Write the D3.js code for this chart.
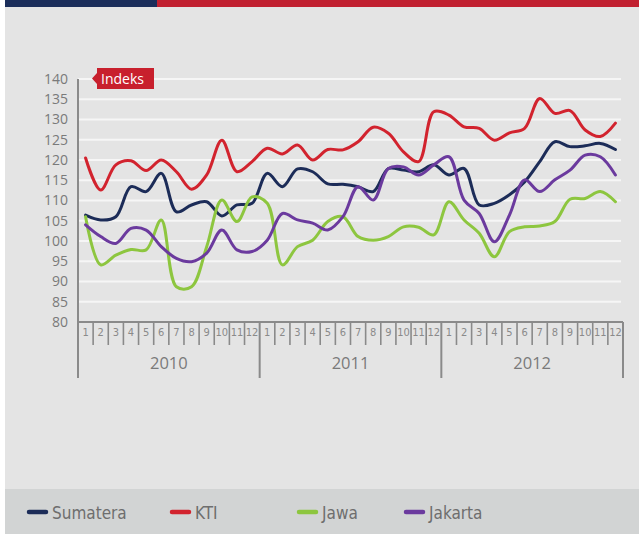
<!DOCTYPE html>
<html>
<head>
<meta charset="utf-8">
<script src="https://cdn.jsdelivr.net/npm/d3@7/dist/d3.min.js"></script>
<style>
  html, body { margin: 0; padding: 0; background: #ffffff; }
  svg { display: block; }
  text { font-family: "Open Sans", "DejaVu Sans", sans-serif; }
</style>
</head>
<body>
<svg id="chart" width="639" height="534"></svg>
<script>
// Monthly index, Jan 2010 – Dec 2012
const years = ["2010", "2011", "2012"];
const months = ["1","2","3","4","5","6","7","8","9","10","11","12"];
const yTicks = [80, 85, 90, 95, 100, 105, 110, 115, 120, 125, 130, 135, 140];

const sumatera = [106.4, 105.2, 106.0, 113.4, 112.2, 116.7, 107.2, 108.9, 109.7, 106.2, 108.9, 109.3,
                  116.7, 113.4, 117.8, 117.1, 114.1, 114.0, 113.4, 112.2, 117.9, 117.5, 117.1, 118.8,
                  116.3, 117.9, 108.9, 109.3, 111.4, 114.6, 119.6, 124.5, 123.3, 123.5, 124.1, 122.6];
const kti      = [120.5, 112.6, 118.8, 119.8, 117.4, 120.0, 117.1, 112.8, 116.3, 124.9, 117.1, 119.6,
                  122.9, 121.5, 123.7, 120.0, 122.6, 122.5, 124.5, 128.1, 126.6, 122.0, 119.6, 131.9,
                  131.1, 128.2, 127.8, 124.9, 126.7, 127.8, 135.2, 131.5, 132.2, 127.4, 125.8, 129.1];
const jawa     = [106.0, 94.1, 96.5, 97.9, 97.8, 105.2, 88.7, 88.7, 98.6, 110.1, 104.8, 110.9,
                  109.3, 94.1, 98.6, 100.2, 104.8, 106.0, 101.1, 100.2, 101.1, 103.5, 103.4, 101.5,
                  109.7, 105.2, 101.9, 96.1, 102.3, 103.5, 103.7, 104.8, 110.3, 110.5, 112.2, 109.7];
const jakarta  = [104.0, 101.1, 99.4, 103.1, 102.7, 98.6, 95.7, 94.9, 97.0, 102.7, 97.8, 97.4,
                  100.2, 106.8, 105.2, 104.4, 102.7, 106.0, 113.4, 110.1, 117.9, 118.3, 116.3, 118.8,
                  120.8, 110.1, 106.8, 99.8, 106.4, 115.1, 112.2, 115.1, 117.5, 121.2, 120.8, 116.3];

const seriesNames = ["Sumatera", "KTI", "Jawa", "Jakarta"];
const seriesValues = [sumatera, kti, jawa, jakarta];
const colors = ["#1c2c58", "#d2232e", "#8dc63f", "#6b3a9e"];

const narrow = "'DejaVu Sans Condensed', sans-serif";

const svg = d3.select("#chart");

// page background, header stripes and legend band
svg.append("rect").attr("x", 5).attr("y", 0).attr("width", 634).attr("height", 534).attr("fill", "#e4e4e4");
svg.append("rect").attr("x", 5).attr("y", 0).attr("width", 152).attr("height", 7).attr("fill", "#1b2d5a");
svg.append("rect").attr("x", 157).attr("y", 0).attr("width", 482).attr("height", 7).attr("fill", "#c12030");
svg.append("rect").attr("x", 5).attr("y", 489).attr("width", 634).attr("height", 45).attr("fill", "#d2d4d4");

const plotLeft = 78, plotRight = 623, plotTop = 79, plotBottom = 322;

const keys = d3.range(36).map(i => years[Math.floor(i / 12)] + "-" + months[i % 12]);
const x = d3.scaleBand().domain(keys).range([plotLeft, plotRight]).padding(0);
const y = d3.scaleLinear().domain([80, 140]).range([plotBottom, plotTop]);

// horizontal grid
svg.append("g").selectAll("line").data(yTicks.filter(t => t > 80)).join("line")
  .attr("x1", plotLeft).attr("x2", 621)
  .attr("y1", d => y(d)).attr("y2", d => y(d))
  .attr("stroke", "#f6f6f6").attr("stroke-width", 2);

// y axis
const yAxis = svg.append("g").attr("transform", `translate(${plotLeft},0)`)
  .call(d3.axisLeft(y).tickValues(yTicks).tickSize(0).tickPadding(10));
yAxis.select(".domain").remove();
yAxis.selectAll("text").attr("fill", "#7a7a7a").style("font-size", "14px")
  .style("font-family", "'Open Sans', sans-serif");

const axisColor = "#8a8a8a";
svg.append("line").attr("x1", plotLeft).attr("x2", plotLeft).attr("y1", plotTop).attr("y2", 378)
  .attr("stroke", axisColor).attr("stroke-width", 2);
svg.append("line").attr("x1", plotLeft).attr("x2", plotRight).attr("y1", plotBottom).attr("y2", plotBottom)
  .attr("stroke", axisColor).attr("stroke-width", 2);

// month ticks and labels
const xAxis = svg.append("g").attr("transform", `translate(0,${plotBottom})`)
  .call(d3.axisBottom(x).tickSize(0).tickPadding(8).tickFormat(d => d.split("-")[1]));
xAxis.select(".domain").remove();
xAxis.selectAll("text").attr("fill", "#8a8a8a").style("font-size", "11px")
  .style("font-family", narrow)
  .attr("dy", "0.5em");

const bw = x.bandwidth();
svg.append("g").selectAll("line").data(keys.filter((k, i) => i % 12 !== 0)).join("line")
  .attr("x1", d => x(d)).attr("x2", d => x(d))
  .attr("y1", plotBottom).attr("y2", 345)
  .attr("stroke", axisColor).attr("stroke-width", 1.6);

// year separators and labels
svg.append("g").selectAll("line").data([12, 24, 36]).join("line")
  .attr("x1", i => i < 36 ? x(keys[i]) : plotRight).attr("x2", i => i < 36 ? x(keys[i]) : plotRight)
  .attr("y1", plotBottom).attr("y2", 378)
  .attr("stroke", axisColor).attr("stroke-width", 2);

svg.append("g").selectAll("text").data(years).join("text")
  .attr("x", (d, i) => x(keys[i * 12]) + bw * 6)
  .attr("y", 369)
  .attr("text-anchor", "middle")
  .attr("fill", "#7a7a7a").style("font-size", "16.5px")
  .text(d => d);

// unit tag
const tag = svg.append("g");
tag.append("path")
  .attr("d", "M92,78.5 L97,73 L97,68 L154,68 L154,89 L97,89 L97,84 Z")
  .attr("fill", "#c8202d");
tag.append("text").attr("x", 101).attr("y", 84).attr("fill", "#ffffff")
  .style("font-size", "14px").text("Indeks");

// series lines
const line = d3.line()
  .x((d, i) => x(keys[i]) + bw / 2)
  .y(d => y(d))
  .curve(d3.curveCatmullRom.alpha(0.5));

svg.append("g").selectAll("path").data(d3.range(seriesValues.length)).join("path")
  .attr("d", i => line(seriesValues[i]))
  .attr("fill", "none")
  .attr("stroke", i => colors[i])
  .attr("stroke-width", 3)
  .attr("stroke-linejoin", "round")
  .attr("stroke-linecap", "round");

// legend
const legendX = [27, 170, 297, 404];
const lg = svg.append("g").selectAll("g").data(seriesNames).join("g")
  .attr("transform", (d, i) => `translate(${legendX[i]},512)`);
lg.append("line").attr("x1", 2).attr("x2", 19).attr("y1", 0).attr("y2", 0)
  .attr("stroke", (d, i) => colors[i]).attr("stroke-width", 4.5).attr("stroke-linecap", "round");
lg.append("text").attr("x", 25).attr("y", 6.5)
  .attr("fill", "#6e6e6e").style("font-size", "17px")
  .style("font-family", narrow)
  .text(d => d);
</script>
</body>
</html>
